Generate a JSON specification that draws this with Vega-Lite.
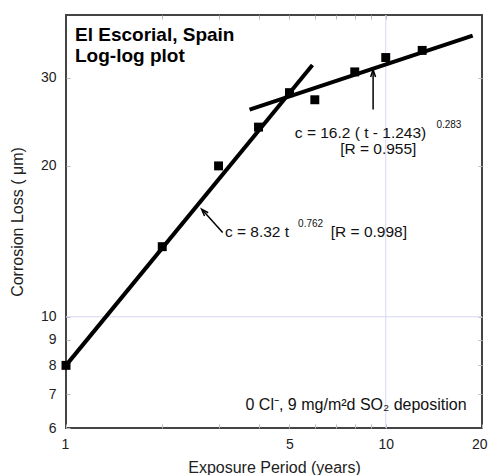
{
  "$schema": "https://vega.github.io/schema/vega-lite/v6.json",
  "width": 416,
  "height": 413,
  "autosize": {"type": "none"},
  "padding": {"left": 66, "top": 15, "right": 6, "bottom": 47},
  "background": "white",
  "config": {
    "font": "Liberation Sans",
    "view": {"stroke": "#444444", "strokeWidth": 2},
    "axis": {
      "grid": false,
      "domain": false,
      "tickColor": "#bbbbbb",
      "tickSize": -4,
      "labelFont": "Liberation Sans",
      "labelFontSize": 14,
      "labelColor": "#222222",
      "titleFont": "Liberation Sans",
      "titleFontSize": 16,
      "titleFontWeight": "normal",
      "titleColor": "#222222"
    }
  },
  "resolve": {"axis": {"x": "independent", "y": "independent"}},
  "layer": [
    {
      "data": {"values": [{"t": 10}]},
      "mark": {"type": "rule", "color": "#d6d6f2", "strokeWidth": 1},
      "encoding": {
        "x": {"field": "t", "type": "quantitative", "scale": {"type": "log", "domain": [1, 20], "nice": false}, "axis": null}
      }
    },
    {
      "data": {"values": [{"c": 10}]},
      "mark": {"type": "rule", "color": "#d6d6f2", "strokeWidth": 1},
      "encoding": {
        "y": {"field": "c", "type": "quantitative", "scale": {"type": "log", "domain": [6, 40], "nice": false}, "axis": null}
      }
    },
    {
      "data": {"values": [
        {"fit": "early", "t": 1, "c": 8.0},
        {"fit": "early", "t": 5.9, "c": 31.8},
        {"fit": "late", "t": 3.75, "c": 25.9},
        {"fit": "late", "t": 18.7, "c": 36.4}
      ]},
      "mark": {"type": "line", "color": "black", "strokeWidth": 4, "strokeCap": "butt"},
      "encoding": {
        "x": {"field": "t", "type": "quantitative", "scale": {"type": "log", "domain": [1, 20], "nice": false},
          "axis": {"orient": "bottom", "values": [1, 2, 3, 4, 5, 6, 7, 8, 9, 10, 20],
            "labelExpr": "indexof([1,5,10,20], datum.value) >= 0 ? datum.label : ''",
            "labelPadding": 13, "labelFlush": true, "labelFlushOffset": 5, "title": "Exposure Period (years)", "titlePadding": 8}},
        "y": {"field": "c", "type": "quantitative", "scale": {"type": "log", "domain": [6, 40], "nice": false},
          "axis": {"orient": "left", "values": [6, 7, 8, 9, 10, 20, 30], "labelPadding": 14, "labelFlush": false,
            "title": "Corrosion Loss ( μm)", "titlePadding": 15}},
        "detail": {"field": "fit"}
      }
    },
    {
      "data": {"values": [
        {"t": 1, "c": 8.0},
        {"t": 2, "c": 13.8},
        {"t": 3, "c": 20.0},
        {"t": 4, "c": 23.9},
        {"t": 5, "c": 28.0},
        {"t": 6, "c": 27.1},
        {"t": 8, "c": 30.8},
        {"t": 10, "c": 32.9},
        {"t": 13, "c": 34.0}
      ]},
      "mark": {"type": "point", "shape": "square", "filled": true, "color": "black", "size": 80, "opacity": 1},
      "encoding": {
        "x": {"field": "t", "type": "quantitative",
          "axis": {"orient": "top", "values": [2, 3, 4, 5, 6, 7, 8, 9, 10], "labels": false, "title": null}},
        "y": {"field": "c", "type": "quantitative",
          "axis": {"orient": "right", "values": [7, 8, 9, 10, 20, 30], "labels": false, "title": null}}
      }
    },
    {
      "data": {"values": [
        {"arrow": "early", "t": 3.09, "c": 14.73, "t2": 2.68, "c2": 16.3},
        {"arrow": "late", "t": 9.13, "c": 25.9, "t2": 9.13, "c2": 31.0}
      ]},
      "mark": {"type": "rule", "color": "black", "strokeWidth": 1.5},
      "encoding": {
        "x": {"field": "t", "type": "quantitative", "axis": null},
        "y": {"field": "c", "type": "quantitative", "axis": null},
        "x2": {"field": "t2"},
        "y2": {"field": "c2"}
      }
    },
    {
      "data": {"values": [{"t": 2.655, "c": 16.4}]},
      "mark": {"type": "point", "shape": "M -0.45 1.3 L 0 0 L 0.45 1.3", "filled": false, "color": "black", "strokeWidth": 1.5, "size": 120, "angle": 318, "opacity": 1},
      "encoding": {
        "x": {"field": "t", "type": "quantitative", "axis": null},
        "y": {"field": "c", "type": "quantitative", "axis": null}
      }
    },
    {
      "data": {"values": [{"t": 9.13, "c": 31.1}]},
      "mark": {"type": "point", "shape": "M -0.45 1.3 L 0 0 L 0.45 1.3", "filled": false, "color": "black", "strokeWidth": 1.5, "size": 120, "angle": 0, "opacity": 1},
      "encoding": {
        "x": {"field": "t", "type": "quantitative", "axis": null},
        "y": {"field": "c", "type": "quantitative", "axis": null}
      }
    },
    {
      "data": {"values": [
        {"t": 1.067, "c": 35.47, "label": "El Escorial, Spain"},
        {"t": 1.067, "c": 32.3, "label": "Log-log plot"}
      ]},
      "mark": {"type": "text", "align": "left", "baseline": "alphabetic", "font": "Liberation Sans", "fontSize": 19, "fontWeight": "bold", "color": "black"},
      "encoding": {
        "x": {"field": "t", "type": "quantitative", "axis": null},
        "y": {"field": "c", "type": "quantitative", "axis": null},
        "text": {"field": "label"}
      }
    },
    {
      "data": {"values": [
        {"t": 5.196, "c": 22.72, "label": "c = 16.2 ( t - 1.243)"},
        {"t": 7.2, "c": 21.1, "label": "[R = 0.955]"},
        {"t": 3.14, "c": 14.46, "label": "c = 8.32 t"},
        {"t": 6.73, "c": 14.46, "label": "[R = 0.998]"}
      ]},
      "mark": {"type": "text", "align": "left", "baseline": "alphabetic", "font": "Liberation Sans", "fontSize": 15.5, "color": "#111111"},
      "encoding": {
        "x": {"field": "t", "type": "quantitative", "axis": null},
        "y": {"field": "c", "type": "quantitative", "axis": null},
        "text": {"field": "label"}
      }
    },
    {
      "data": {"values": [
        {"t": 14.4, "c": 23.8, "label": "0.283"},
        {"t": 5.32, "c": 15.14, "label": "0.762"}
      ]},
      "mark": {"type": "text", "align": "left", "baseline": "alphabetic", "font": "Liberation Sans", "fontSize": 10, "color": "#111111"},
      "encoding": {
        "x": {"field": "t", "type": "quantitative", "axis": null},
        "y": {"field": "c", "type": "quantitative", "axis": null},
        "text": {"field": "label"}
      }
    },
    {
      "data": {"values": [
        {"t": 17.9, "c": 6.52, "label": "0 Cl⁻, 9 mg/m²d SO₂ deposition"}
      ]},
      "mark": {"type": "text", "align": "right", "baseline": "alphabetic", "font": "Liberation Sans", "fontSize": 16, "color": "#111111"},
      "encoding": {
        "x": {"field": "t", "type": "quantitative", "axis": null},
        "y": {"field": "c", "type": "quantitative", "axis": null},
        "text": {"field": "label"}
      }
    }
  ]
}
